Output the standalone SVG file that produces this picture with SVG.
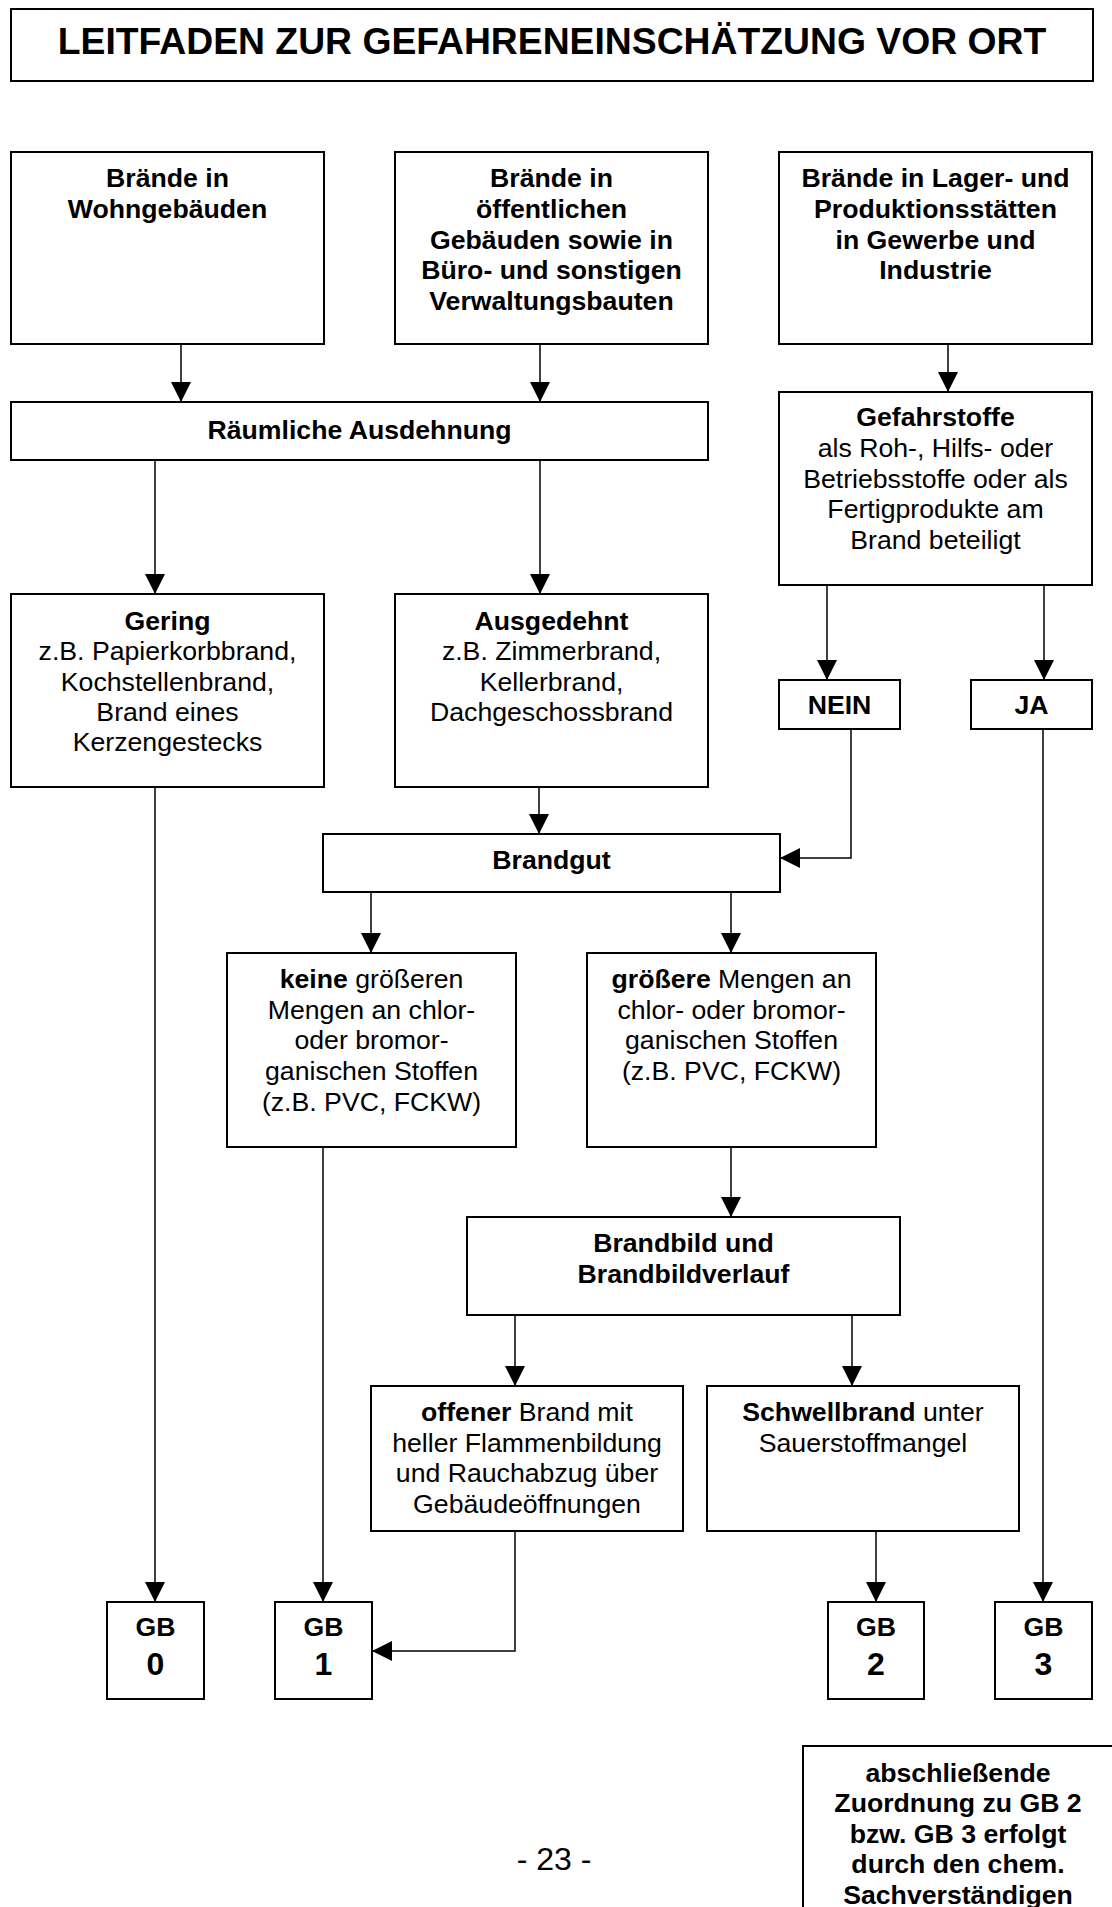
<svg xmlns="http://www.w3.org/2000/svg" width="1112" height="1907" viewBox="0 0 1112 1907">
<style>
.box{fill:#fff;stroke:#000;stroke-width:2}
.c{fill:none;stroke:#000;stroke-width:1.5}
text{font-family:"Liberation Sans",Arial,sans-serif;font-size:26.67px;fill:#000;text-anchor:middle}
.b{font-weight:bold}
.d{font-weight:bold;font-size:32px}
.title{font-size:37.3px;font-weight:bold}
.pg{font-size:32px}
</style>
<defs>
<marker id="ah" markerUnits="userSpaceOnUse" markerWidth="20" markerHeight="20" refX="20" refY="10" orient="auto" viewBox="0 0 20 20">
<path d="M0,0 L20,10 L0,20 z" fill="#000"/>
</marker>
</defs>
<rect width="1112" height="1907" fill="#fff"/>

<g id="title">
<rect class="box" x="11" y="9" width="1082" height="72"/>
<text class="title" x="552" y="54">LEITFADEN ZUR GEFAHRENEINSCHÄTZUNG VOR ORT</text>
</g>

<g id="connectors">
<line class="c" x1="181" y1="344" x2="181" y2="402" marker-end="url(#ah)"/>
<line class="c" x1="540" y1="344" x2="540" y2="402" marker-end="url(#ah)"/>
<line class="c" x1="948" y1="344" x2="948" y2="392" marker-end="url(#ah)"/>
<line class="c" x1="155" y1="460" x2="155" y2="594" marker-end="url(#ah)"/>
<line class="c" x1="540" y1="460" x2="540" y2="594" marker-end="url(#ah)"/>
<line class="c" x1="827" y1="585" x2="827" y2="680" marker-end="url(#ah)"/>
<line class="c" x1="1044" y1="585" x2="1044" y2="680" marker-end="url(#ah)"/>
<line class="c" x1="539" y1="787" x2="539" y2="834" marker-end="url(#ah)"/>
<polyline class="c" points="851,729 851,858 780,858" marker-end="url(#ah)"/>
<line class="c" x1="371" y1="892" x2="371" y2="953" marker-end="url(#ah)"/>
<line class="c" x1="731" y1="892" x2="731" y2="953" marker-end="url(#ah)"/>
<line class="c" x1="731" y1="1147" x2="731" y2="1217" marker-end="url(#ah)"/>
<line class="c" x1="515" y1="1315" x2="515" y2="1386" marker-end="url(#ah)"/>
<line class="c" x1="852" y1="1315" x2="852" y2="1386" marker-end="url(#ah)"/>
<line class="c" x1="155" y1="787" x2="155" y2="1602" marker-end="url(#ah)"/>
<line class="c" x1="323" y1="1147" x2="323" y2="1602" marker-end="url(#ah)"/>
<polyline class="c" points="515,1531 515,1651 372,1651" marker-end="url(#ah)"/>
<line class="c" x1="876" y1="1531" x2="876" y2="1602" marker-end="url(#ah)"/>
<line class="c" x1="1043" y1="729" x2="1043" y2="1602" marker-end="url(#ah)"/>
</g>

<g id="n-wohn">
<rect class="box" x="11" y="152" width="313" height="192"/>
<text class="b" x="167.5" y="187">Brände in</text>
<text class="b" x="167.5" y="218">Wohngebäuden</text>
</g>

<g id="n-oeff">
<rect class="box" x="395" y="152" width="313" height="192"/>
<text class="b" x="551.5" y="187">Brände in</text>
<text class="b" x="551.5" y="218">öffentlichen</text>
<text class="b" x="551.5" y="249">Gebäuden sowie in</text>
<text class="b" x="551.5" y="279">Büro- und sonstigen</text>
<text class="b" x="551.5" y="310">Verwaltungsbauten</text>
</g>

<g id="n-lager">
<rect class="box" x="779" y="152" width="313" height="192"/>
<text class="b" x="935.5" y="187">Brände in Lager- und</text>
<text class="b" x="935.5" y="218">Produktionsstätten</text>
<text class="b" x="935.5" y="249">in Gewerbe und</text>
<text class="b" x="935.5" y="279">Industrie</text>
</g>

<g id="n-raeumlich">
<rect class="box" x="11" y="402" width="697" height="58"/>
<text class="b" x="359.5" y="439">Räumliche Ausdehnung</text>
</g>

<g id="n-gefahrstoffe">
<rect class="box" x="779" y="392" width="313" height="193"/>
<text class="b" x="935.5" y="426">Gefahrstoffe</text>
<text x="935.5" y="457">als Roh-, Hilfs- oder</text>
<text x="935.5" y="488">Betriebsstoffe oder als</text>
<text x="935.5" y="518">Fertigprodukte am</text>
<text x="935.5" y="549">Brand beteiligt</text>
</g>

<g id="n-gering">
<rect class="box" x="11" y="594" width="313" height="193"/>
<text class="b" x="167.5" y="630">Gering</text>
<text x="167.5" y="660">z.B. Papierkorbbrand,</text>
<text x="167.5" y="691">Kochstellenbrand,</text>
<text x="167.5" y="721">Brand eines</text>
<text x="167.5" y="751">Kerzengestecks</text>
</g>

<g id="n-ausgedehnt">
<rect class="box" x="395" y="594" width="313" height="193"/>
<text class="b" x="551.5" y="630">Ausgedehnt</text>
<text x="551.5" y="660">z.B. Zimmerbrand,</text>
<text x="551.5" y="691">Kellerbrand,</text>
<text x="551.5" y="721">Dachgeschossbrand</text>
</g>

<g id="n-nein">
<rect class="box" x="779" y="680" width="121" height="49"/>
<text class="b" x="839.5" y="714">NEIN</text>
</g>

<g id="n-ja">
<rect class="box" x="971" y="680" width="121" height="49"/>
<text class="b" x="1031.5" y="714">JA</text>
</g>

<g id="n-brandgut">
<rect class="box" x="323" y="834" width="457" height="58"/>
<text class="b" x="551.5" y="869">Brandgut</text>
</g>

<g id="n-keine">
<rect class="box" x="227" y="953" width="289" height="194"/>
<text x="371.5" y="988"><tspan class="b">keine</tspan> größeren</text>
<text x="371.5" y="1019">Mengen an chlor-</text>
<text x="371.5" y="1049">oder bromor-</text>
<text x="371.5" y="1080">ganischen Stoffen</text>
<text x="371.5" y="1111">(z.B. PVC, FCKW)</text>
</g>

<g id="n-groessere">
<rect class="box" x="587" y="953" width="289" height="194"/>
<text x="731.5" y="988"><tspan class="b">größere</tspan> Mengen an</text>
<text x="731.5" y="1019">chlor- oder bromor-</text>
<text x="731.5" y="1049">ganischen Stoffen</text>
<text x="731.5" y="1080">(z.B. PVC, FCKW)</text>
</g>

<g id="n-brandbild">
<rect class="box" x="467" y="1217" width="433" height="98"/>
<text class="b" x="683.5" y="1252">Brandbild und</text>
<text class="b" x="683.5" y="1283">Brandbildverlauf</text>
</g>

<g id="n-offener">
<rect class="box" x="371" y="1386" width="312" height="145"/>
<text x="527" y="1421"><tspan class="b">offener</tspan> Brand mit</text>
<text x="527" y="1452">heller Flammenbildung</text>
<text x="527" y="1482">und Rauchabzug über</text>
<text x="527" y="1513">Gebäudeöffnungen</text>
</g>

<g id="n-schwell">
<rect class="box" x="707" y="1386" width="312" height="145"/>
<text x="863" y="1421"><tspan class="b">Schwellbrand</tspan> unter</text>
<text x="863" y="1452">Sauerstoffmangel</text>
</g>

<g id="n-gb0">
<rect class="box" x="107" y="1602" width="97" height="97"/>
<text class="b" x="155.5" y="1636">GB</text>
<text class="d" x="155.5" y="1675">0</text>
</g>

<g id="n-gb1">
<rect class="box" x="275" y="1602" width="97" height="97"/>
<text class="b" x="323.5" y="1636">GB</text>
<text class="d" x="323.5" y="1675">1</text>
</g>

<g id="n-gb2">
<rect class="box" x="828" y="1602" width="96" height="97"/>
<text class="b" x="876" y="1636">GB</text>
<text class="d" x="876" y="1675">2</text>
</g>

<g id="n-gb3">
<rect class="box" x="995" y="1602" width="97" height="97"/>
<text class="b" x="1043.5" y="1636">GB</text>
<text class="d" x="1043.5" y="1675">3</text>
</g>

<g id="n-note">
<rect class="box" x="803" y="1746" width="320" height="200"/>
<text class="b" x="958" y="1782">abschließende</text>
<text class="b" x="958" y="1812">Zuordnung zu GB 2</text>
<text class="b" x="958" y="1843">bzw. GB 3 erfolgt</text>
<text class="b" x="958" y="1873">durch den chem.</text>
<text class="b" x="958" y="1904">Sachverständigen</text>
</g>

<text class="pg" x="554" y="1870">- 23 -</text>
</svg>
